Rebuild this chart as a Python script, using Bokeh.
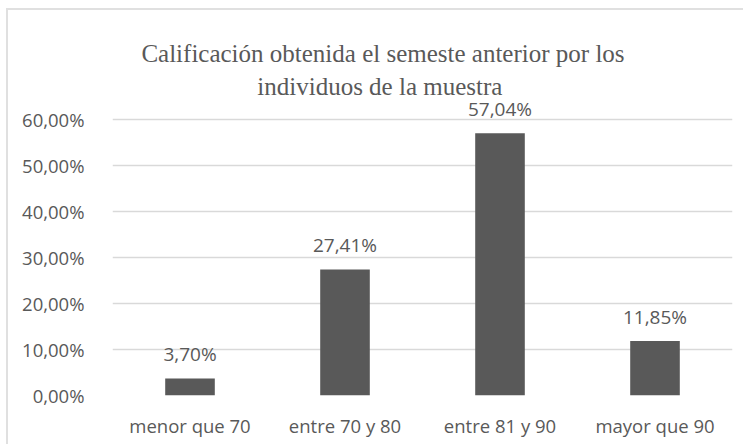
from bokeh.plotting import figure
from bokeh.models import ColumnDataSource, FixedTicker, Label, LabelSet
from bokeh.core.properties import value
from bokeh.embed import file_html
from bokeh.resources import INLINE

categories = ["menor que 70", "entre 70 y 80", "entre 81 y 90", "mayor que 90"]
values = [0.0370, 0.2741, 0.5704, 0.1185]
value_labels = ["3,70%", "27,41%", "57,04%", "11,85%"]
y_ticks = [0.0, 0.1, 0.2, 0.3, 0.4, 0.5, 0.6]
y_tick_labels = ["0,00%", "10,00%", "20,00%", "30,00%", "40,00%", "50,00%", "60,00%"]
title_lines = ["Calificación obtenida el semeste anterior por los", "individuos  de la muestra"]

TXT = "#595959"
source = ColumnDataSource(dict(cat=categories, val=values, lab=value_labels))

p = figure(x_range=categories, y_range=(0, 0.837), width=737, height=436,
           output_backend="svg", toolbar_location=None,
           min_border_left=104, min_border_right=13, min_border_top=0, min_border_bottom=51)
p.styles = {"margin-left": "6px", "margin-top": "8px",
            "border-left": "2px solid #e0e0e0", "border-top": "2px solid #e0e0e0"}
p.outline_line_color = None
p.background_fill_color = "white"
p.border_fill_color = "white"

p.vbar(x="cat", top="val", width=0.32, source=source, fill_color="#595959", line_color=None)

p.add_layout(LabelSet(x="cat", y="val", text="lab", source=source, text_align="center",
                      text_baseline="alphabetic", y_offset=17, text_color=TXT,
                      text_font=value("Open Sans"), text_font_size="19px"))

p.yaxis.ticker = FixedTicker(ticks=y_ticks)
p.yaxis.major_label_overrides = {t: l for t, l in zip(y_ticks, y_tick_labels)}
for ax in (p.xaxis[0], p.yaxis[0]):
    ax.axis_line_color = None
    ax.major_tick_line_color = None
    ax.minor_tick_line_color = None
    ax.major_label_text_color = TXT
    ax.major_label_text_font = "Open Sans"
    ax.major_label_text_font_size = "18.5px"
p.yaxis.major_label_standoff = 22
p.xaxis.major_label_standoff = 11
p.xgrid.grid_line_color = None
p.ygrid.grid_line_color = "#d9d9d9"
p.ygrid.grid_line_width = 1.5

title_baselines = [0.7435, 0.6717]
for line, yb in zip(title_lines, title_baselines):
    p.add_layout(Label(x=1.745, y=yb, text=line, text_align="center",
                       text_baseline="alphabetic", text_color=TXT,
                       text_font="Liberation Serif", text_font_size="25px"))

open("out.html", "w").write(file_html(p, INLINE))
